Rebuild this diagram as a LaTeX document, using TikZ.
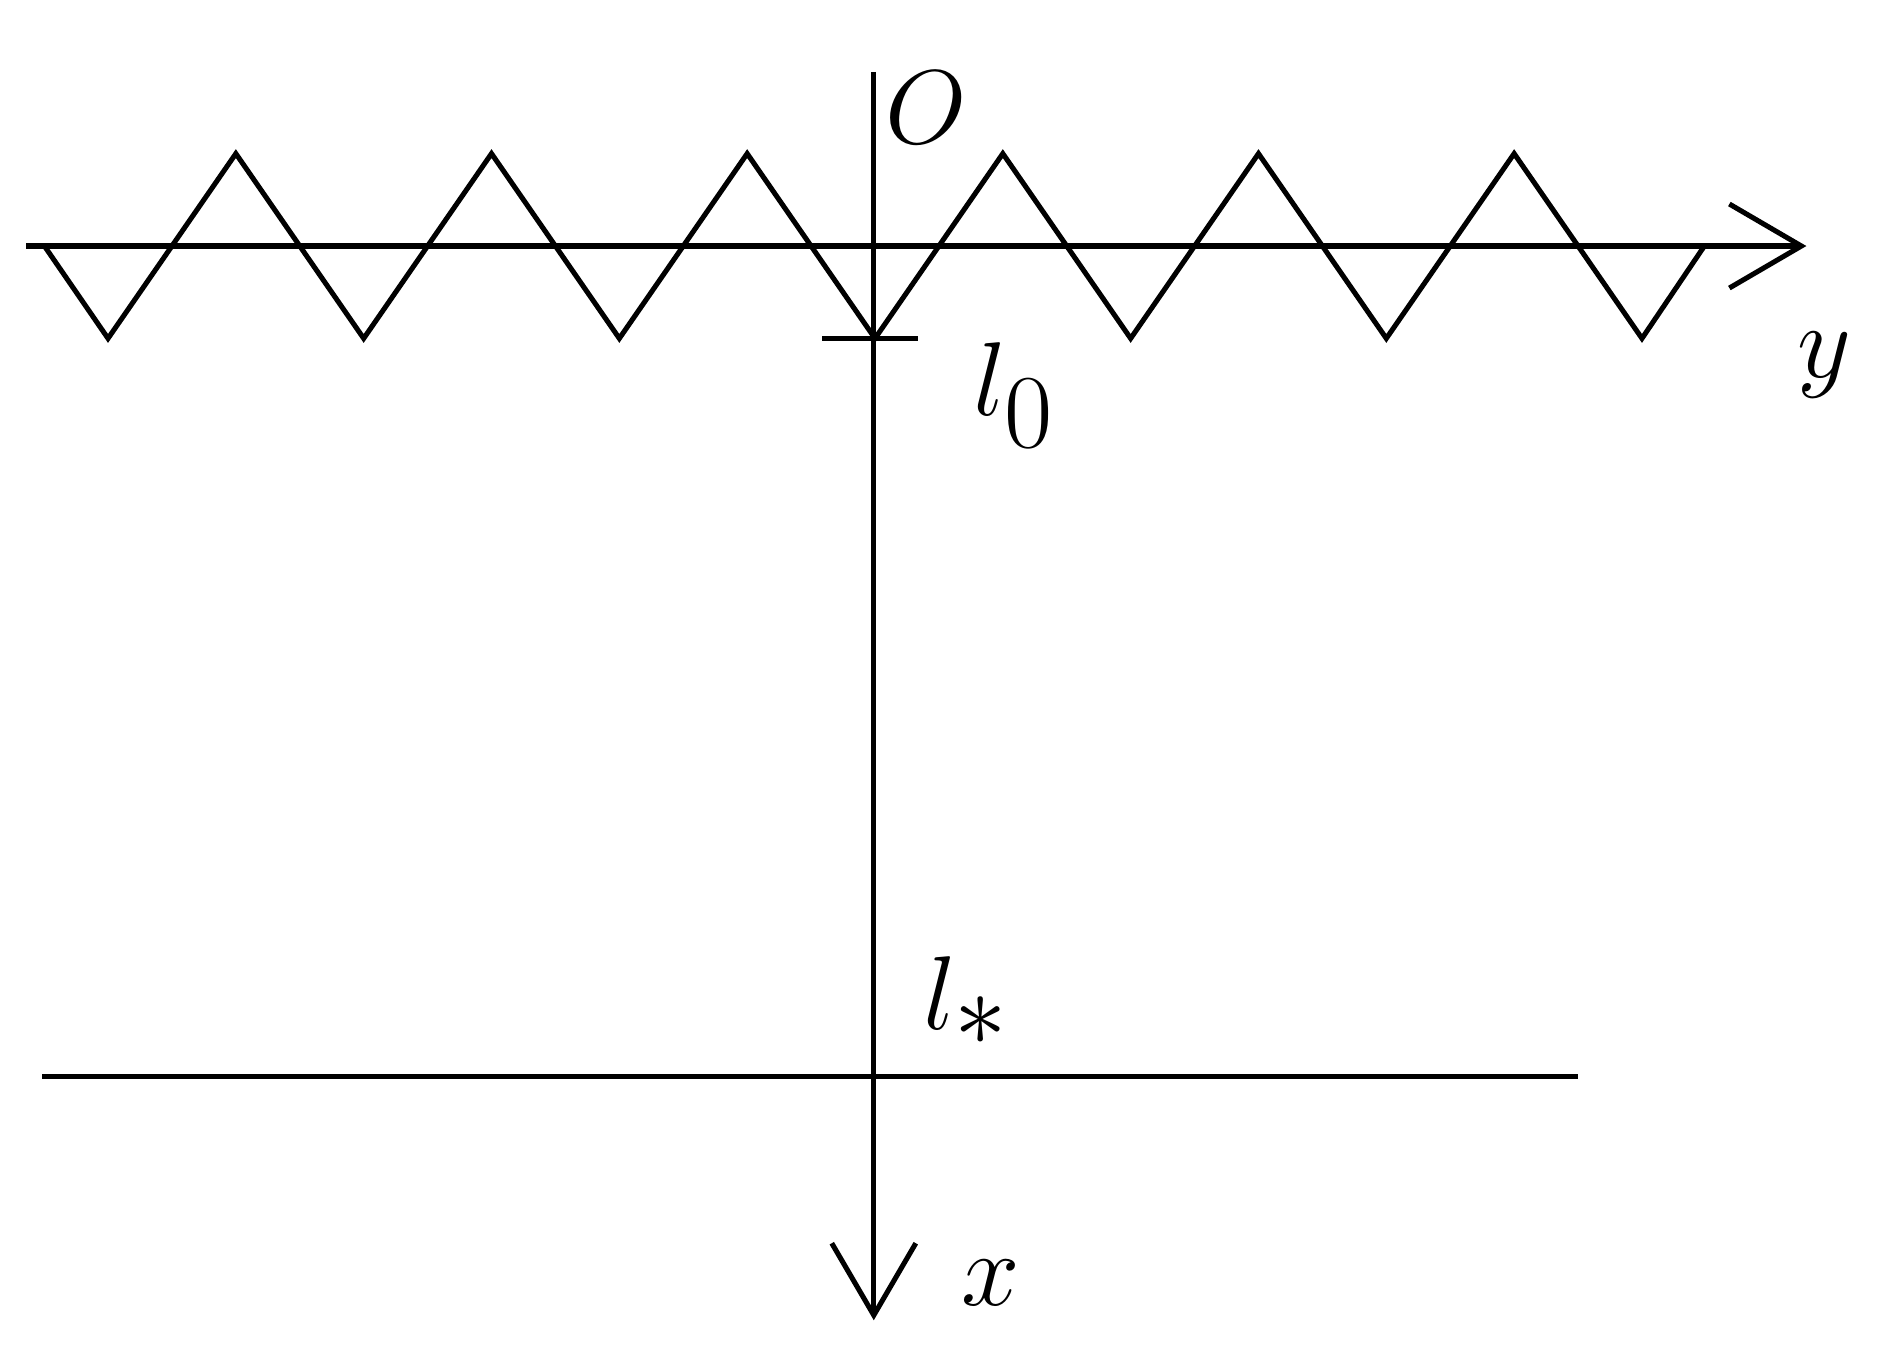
\documentclass[tikz,border=0pt]{standalone}
\usepackage{amsmath}
\usetikzlibrary{arrows.meta}

\begin{document}
\begin{tikzpicture}[line width=1.2pt,
    >={Straight Barb[length=0.6cm,width=0.7cm,line width=1.2pt]},
    lbl/.style={font=\fontsize{40}{44}\selectfont, inner sep=0pt}]
    \useasboundingbox (0,0) rectangle (15.68,11.24);

    \coordinate (YL) at (0.22,9.19);
    \coordinate (YR) at (15.05,9.19);
    \coordinate (XT) at (7.28,10.64);
    \coordinate (XB) at (7.28,0.24);
    \coordinate (SL) at (0.35,2.27);
    \coordinate (SR) at (13.15,2.27);
    \coordinate (TL) at (6.85,8.42);
    \coordinate (TR) at (7.65,8.42);

    \draw[->] (YL) -- (YR);
    \draw[->] (XT) -- (XB);
    \draw (SL) -- (SR);
    \draw (TL) -- (TR);

    % zigzag
    \draw (0.37,9.19) -- (0.9,8.42)
    \foreach \k in {0,...,5} {
        -- ({0.9+2.13*\k+1.065},9.96) -- ({0.9+2.13*(\k+1)},8.42)
    } -- (14.2,9.19);

    \node[lbl] (O) at (7.72,10.34) {$O$};
    \node[lbl] (l0) at (8.45,7.95) {$l_0$};
    \node[lbl] (y) at (15.2,8.2) {$y$};
    \node[lbl] (ls) at (8.05,2.9) {$l_*$};
    \node[lbl] (x) at (8.25,0.55) {$x$};
\end{tikzpicture}
\end{document}
